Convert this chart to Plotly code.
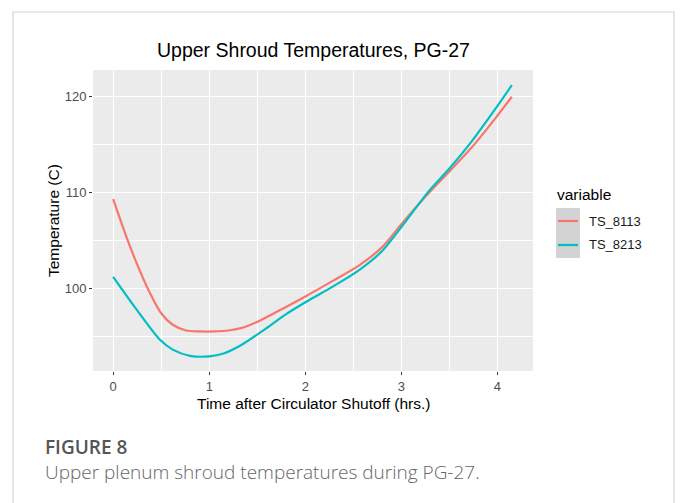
import plotly.graph_objects as go

# Shroud thermocouple readings after circulator shutoff
time_8113 = [0, 0.17, 0.35, 0.50, 0.62, 0.76, 0.90, 1.05, 1.20, 1.35, 1.52, 1.77,
             2.01, 2.29, 2.56, 2.80, 3.00, 3.29, 3.50, 3.74, 3.99, 4.15]
temp_8113 = [109.3, 104.5, 100.2, 97.4, 96.2, 95.6, 95.5, 95.5, 95.6, 95.9, 96.6, 97.9,
             99.2, 100.8, 102.4, 104.3, 106.7, 110.0, 112.2, 114.8, 117.9, 120.0]

time_8213 = [0, 0.25, 0.49, 0.62, 0.80, 1.00, 1.15, 1.32, 1.59, 1.80, 2.01, 2.29,
             2.56, 2.80, 3.00, 3.29, 3.50, 3.74, 3.99, 4.15]
temp_8213 = [101.2, 97.7, 94.6, 93.6, 92.95, 92.9, 93.2, 94.0, 95.8, 97.3, 98.6, 100.2,
             101.9, 103.9, 106.4, 110.2, 112.5, 115.45, 118.9, 121.2]

series_names = ["TS_8113", "TS_8213"]
series_colors = ["#F8766D", "#00BFC4"]

x_ticks = [0, 1, 2, 3, 4]
y_ticks = [100, 110, 120]

W, H = 680, 503
L, R, T, B = 93, 147, 70, 132
PW, PH = W - L - R, H - T - B


def px2x(p):
    return (p - L) / PW


def py2y(p):
    return (H - B - p) / PH


AX_FONT = "Liberation Sans, Arial, sans-serif"
CAP_FONT = "Open Sans, Noto Sans, sans-serif"

fig = go.Figure()
for xs, ys, name, col in zip([time_8113, time_8213], [temp_8113, temp_8213],
                             series_names, series_colors):
    fig.add_trace(go.Scatter(x=xs, y=ys, mode="lines", name=name,
                             line=dict(color=col, width=2.2, shape="spline", smoothing=0.8),
                             showlegend=False))

axis_common = dict(
    showgrid=True, gridcolor="white", gridwidth=1.1,
    zeroline=False, showline=False,
    ticks="outside", ticklen=3, tickwidth=1, tickcolor="#333333",
    tickfont=dict(family=AX_FONT, size=13, color="#4d4d4d"),
)

fig.update_xaxes(range=[-0.21, 4.37], tickvals=x_ticks,
                 minor=dict(dtick=0.5, tick0=0, gridcolor="white", gridwidth=0.5, showgrid=True),
                 **axis_common)
fig.update_yaxes(range=[91.37, 122.79], tickvals=y_ticks,
                 minor=dict(dtick=5, tick0=0, gridcolor="white", gridwidth=0.5, showgrid=True),
                 **axis_common)

shapes = [
    # card outline
    dict(type="rect", xref="paper", yref="paper", layer="below",
         x0=px2x(13), x1=px2x(674), y0=py2y(520), y1=py2y(12),
         line=dict(color="#d4d4d4", width=1.2), fillcolor="rgba(0,0,0,0)"),
    # legend key background
    dict(type="rect", xref="paper", yref="paper",
         x0=px2x(556), x1=px2x(580), y0=py2y(258), y1=py2y(208),
         line=dict(width=0), fillcolor="#d3d3d3"),
]
key_y = [221, 245]
for ky, col in zip(key_y, series_colors):
    shapes.append(dict(type="line", xref="paper", yref="paper",
                       x0=px2x(558), x1=px2x(578), y0=py2y(ky), y1=py2y(ky),
                       line=dict(color=col, width=2.2)))

annotations = [
    dict(text="Upper Shroud Temperatures, PG-27", x=px2x(313), y=py2y(50),
         xanchor="center", yanchor="middle",
         font=dict(family=AX_FONT, size=19.5, color="#000000")),
    dict(text="Time after Circulator Shutoff (hrs.)", x=px2x(313), y=py2y(403),
         xanchor="center", yanchor="middle",
         font=dict(family=AX_FONT, size=15.5, color="#000000")),
    dict(text="Temperature (C)", x=px2x(53), y=py2y(221), textangle=-90,
         xanchor="center", yanchor="middle",
         font=dict(family=AX_FONT, size=15.5, color="#000000")),
    dict(text="variable", x=px2x(555), y=py2y(194), xanchor="left", yanchor="middle",
         font=dict(family=AX_FONT, size=15.5, color="#000000")),
    dict(text="FIGURE 8", x=px2x(43), y=py2y(447), xanchor="left", yanchor="middle",
         font=dict(family=CAP_FONT, size=19, color="#555555", weight=600)),
    dict(text="Upper plenum shroud temperatures during PG-27.", x=px2x(43), y=py2y(472),
         xanchor="left", yanchor="middle",
         font=dict(family=CAP_FONT, size=19, color="#666666", weight=300)),
]
for ky, name in zip(key_y, series_names):
    annotations.append(dict(text=name, x=px2x(587), y=py2y(ky), xanchor="left",
                            yanchor="middle",
                            font=dict(family=AX_FONT, size=13, color="#1a1a1a")))
for a in annotations:
    a.update(xref="paper", yref="paper", showarrow=False)

fig.update_layout(
    width=W, height=H,
    margin=dict(l=L, r=R, t=T, b=B, pad=0),
    paper_bgcolor="white", plot_bgcolor="#ebebeb",
    shapes=shapes, annotations=annotations,
    showlegend=False,
)

fig.write_html("out.html")
